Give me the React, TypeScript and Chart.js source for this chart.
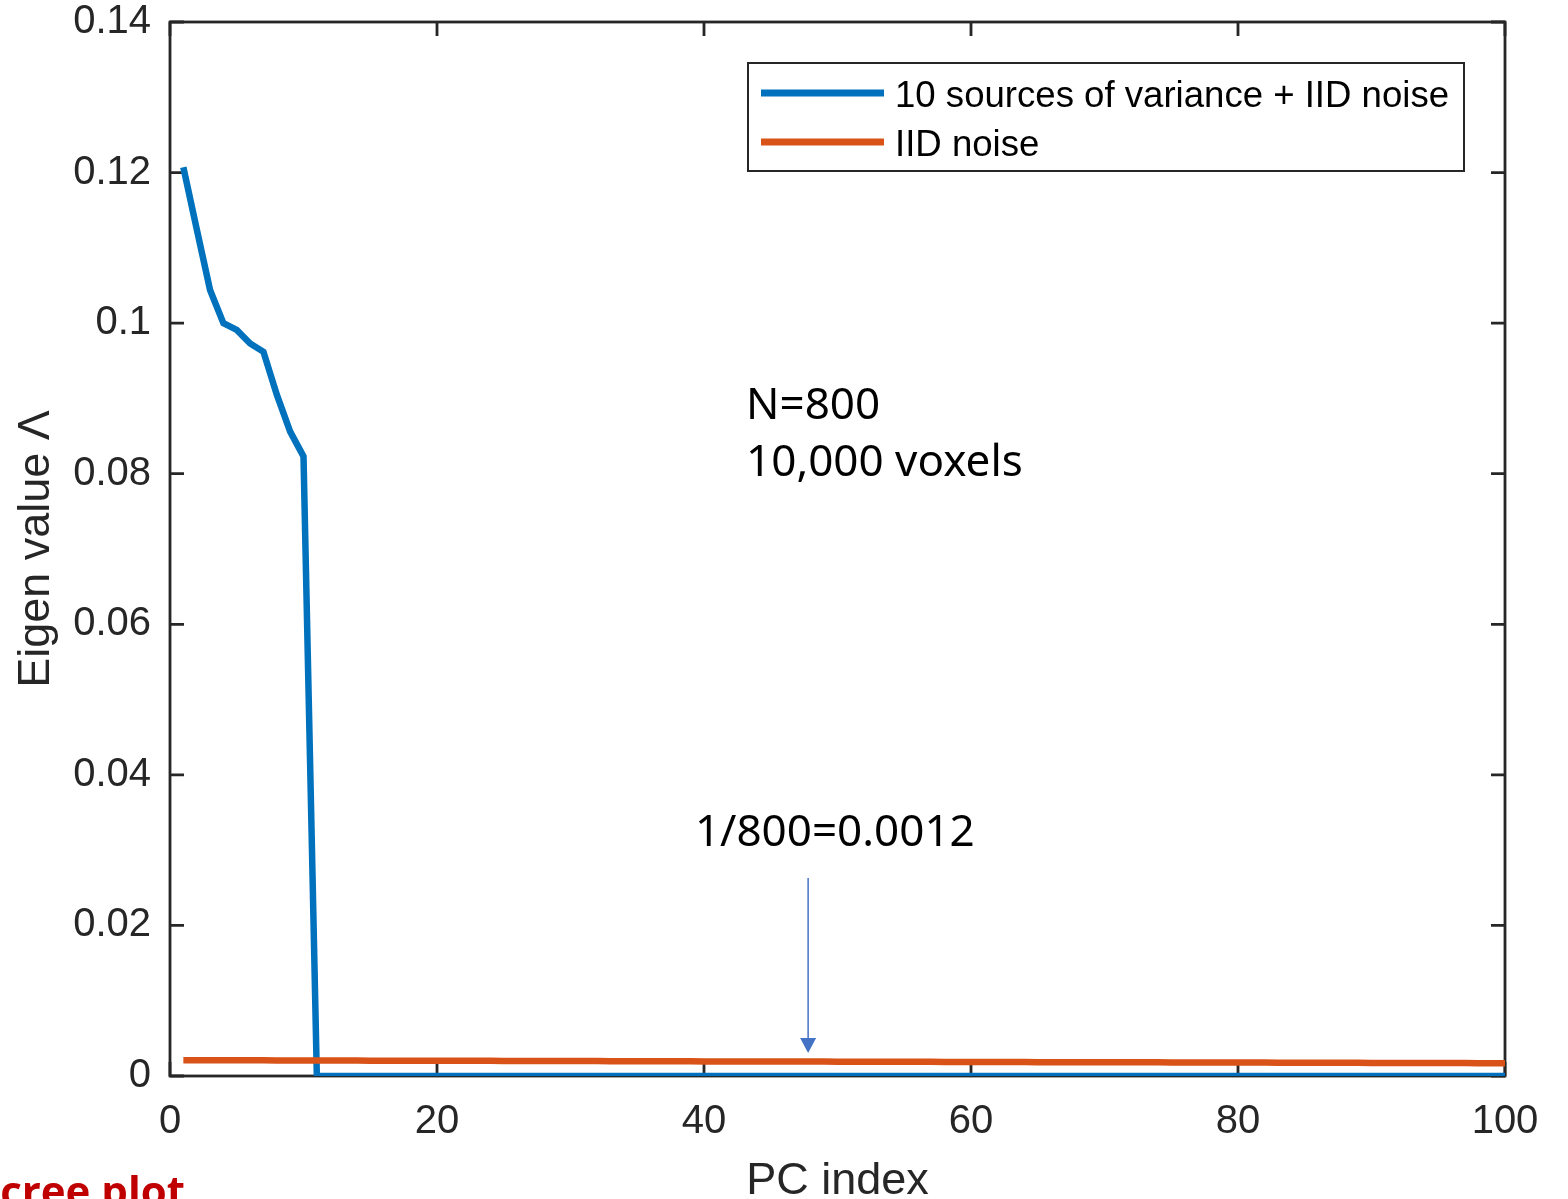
import React, { useEffect, useRef } from "react";
import { Chart, registerables } from "chart.js";

Chart.register(...registerables);

// ---------- data ----------
const pcIndex: number[] = Array.from({ length: 100 }, (_, i) => i + 1);

const sourcesPlusNoise: number[] = [
  0.1207, 0.1125, 0.1044, 0.1000, 0.0991, 0.0973, 0.0962, 0.0905, 0.0856, 0.0823,
  0, 0, 0, 0, 0, 0, 0, 0, 0, 0,
  0, 0, 0, 0, 0, 0, 0, 0, 0, 0,
  0, 0, 0, 0, 0, 0, 0, 0, 0, 0,
  0, 0, 0, 0, 0, 0, 0, 0, 0, 0,
  0, 0, 0, 0, 0, 0, 0, 0, 0, 0,
  0, 0, 0, 0, 0, 0, 0, 0, 0, 0,
  0, 0, 0, 0, 0, 0, 0, 0, 0, 0,
  0, 0, 0, 0, 0, 0, 0, 0, 0, 0,
  0, 0, 0, 0, 0, 0, 0, 0, 0, 0,
];

const iidNoise: number[] = [
  0.00210, 0.00210, 0.00209, 0.00209, 0.00208, 0.00208, 0.00208, 0.00207, 0.00207, 0.00206,
  0.00206, 0.00206, 0.00205, 0.00205, 0.00204, 0.00204, 0.00204, 0.00203, 0.00203, 0.00202,
  0.00202, 0.00202, 0.00201, 0.00201, 0.00200, 0.00200, 0.00200, 0.00199, 0.00199, 0.00198,
  0.00198, 0.00198, 0.00197, 0.00197, 0.00196, 0.00196, 0.00196, 0.00195, 0.00195, 0.00194,
  0.00194, 0.00194, 0.00193, 0.00193, 0.00192, 0.00192, 0.00192, 0.00191, 0.00191, 0.00190,
  0.00190, 0.00190, 0.00189, 0.00189, 0.00188, 0.00188, 0.00188, 0.00187, 0.00187, 0.00186,
  0.00186, 0.00186, 0.00185, 0.00185, 0.00184, 0.00184, 0.00184, 0.00183, 0.00183, 0.00182,
  0.00182, 0.00182, 0.00181, 0.00181, 0.00180, 0.00180, 0.00180, 0.00179, 0.00179, 0.00178,
  0.00178, 0.00178, 0.00177, 0.00177, 0.00176, 0.00176, 0.00176, 0.00175, 0.00175, 0.00174,
  0.00174, 0.00174, 0.00173, 0.00173, 0.00172, 0.00172, 0.00172, 0.00171, 0.00171, 0.00170,
];

const seriesLabels: string[] = ["10 sources of variance + IID noise", "IID noise"];
const xTicks: number[] = [0, 20, 40, 60, 80, 100];
const yTicks: number[] = [0, 0.02, 0.04, 0.06, 0.08, 0.1, 0.12, 0.14];
const infoLines: string[] = ["N=800", "10,000 voxels"];
const noteText = "1/800=0.0012";
const cornerText = "Scree plot";

// annotation anchors (data units)
const infoAnchor = { x: 43.15, y: 0.0873, y2: 0.0797 };
const noteAnchor = { x: 49.8, y: 0.0306 };
const arrowAnchor = { x: 47.8, yTop: 0.0263, yTip: 0.00305 };

// ---------- styles ----------
const BLUE = "#0072BD";
const ORANGE = "#D95319";
const AXIS = "#262626";
const TICK_LEN = 14;

const framePlugin = {
  id: "matlabFrame",
  beforeDatasetsDraw(chart: any) {
    const { ctx, chartArea: a, scales } = chart;
    const x = scales.x;
    const y = scales.y;
    ctx.save();
    ctx.strokeStyle = AXIS;
    ctx.lineWidth = 2.8;
    ctx.strokeRect(a.left, a.top, a.right - a.left, a.bottom - a.top);
    ctx.beginPath();
    xTicks.forEach((v) => {
      const px = x.getPixelForValue(v);
      ctx.moveTo(px, a.bottom);
      ctx.lineTo(px, a.bottom - TICK_LEN);
      ctx.moveTo(px, a.top);
      ctx.lineTo(px, a.top + TICK_LEN);
    });
    yTicks.forEach((v) => {
      const py = y.getPixelForValue(v);
      ctx.moveTo(a.left, py);
      ctx.lineTo(a.left + TICK_LEN, py);
      ctx.moveTo(a.right, py);
      ctx.lineTo(a.right - TICK_LEN, py);
    });
    ctx.stroke();
    ctx.restore();
  },
  afterDraw(chart: any) {
    const { ctx, chartArea: a, scales } = chart;
    const x = scales.x;
    const y = scales.y;
    ctx.save();

    // legend box
    const lx0 = a.right - 757;
    const ly0 = a.top + 41;
    const lw = 716;
    const lh = 108;
    ctx.fillStyle = "#ffffff";
    ctx.fillRect(lx0, ly0, lw, lh);
    ctx.strokeStyle = AXIS;
    ctx.lineWidth = 2;
    ctx.strokeRect(lx0, ly0, lw, lh);
    const colors = [BLUE, ORANGE];
    const rowY = [ly0 + 30, ly0 + 79];
    ctx.font = "36.6px 'Liberation Sans', Arial, sans-serif";
    ctx.textBaseline = "alphabetic";
    ctx.textAlign = "left";
    seriesLabels.forEach((label, i) => {
      ctx.strokeStyle = colors[i];
      ctx.lineWidth = 7;
      ctx.beginPath();
      ctx.moveTo(lx0 + 13, rowY[i]);
      ctx.lineTo(lx0 + 136, rowY[i]);
      ctx.stroke();
      ctx.fillStyle = "#000000";
      ctx.fillText(label, lx0 + 147, rowY[i] + 13.5);
    });

    // info text
    ctx.font = "44px 'Noto Sans', 'Open Sans', sans-serif";
    ctx.fillStyle = "#000000";
    ctx.textAlign = "left";
    ctx.fillText(infoLines[0], x.getPixelForValue(infoAnchor.x), y.getPixelForValue(infoAnchor.y));
    ctx.fillText(infoLines[1], x.getPixelForValue(infoAnchor.x), y.getPixelForValue(infoAnchor.y2));
    ctx.textAlign = "center";
    ctx.fillText(noteText, x.getPixelForValue(noteAnchor.x), y.getPixelForValue(noteAnchor.y));

    // arrow
    const ax = x.getPixelForValue(arrowAnchor.x);
    const ayTop = y.getPixelForValue(arrowAnchor.yTop);
    const ayTip = y.getPixelForValue(arrowAnchor.yTip);
    ctx.strokeStyle = "#4472C4";
    ctx.fillStyle = "#4472C4";
    ctx.lineWidth = 1.5;
    ctx.beginPath();
    ctx.moveTo(ax, ayTop);
    ctx.lineTo(ax, ayTip - 14);
    ctx.stroke();
    ctx.beginPath();
    ctx.moveTo(ax - 8, ayTip - 15);
    ctx.lineTo(ax + 8, ayTip - 15);
    ctx.lineTo(ax, ayTip);
    ctx.closePath();
    ctx.fill();

    // corner caption (partly off-canvas as in the reference)
    ctx.font = "bold 42px 'Open Sans', 'Noto Sans', sans-serif";
    ctx.fillStyle = "#C00000";
    ctx.textAlign = "left";
    ctx.fillText(cornerText, -23, 1206);

    ctx.restore();
  },
};

export default function App() {
  const canvasRef = useRef<HTMLCanvasElement | null>(null);

  useEffect(() => {
    if (!canvasRef.current) return;
    Chart.defaults.font.family = "'Liberation Sans', Arial, sans-serif";
    const chart = new Chart(canvasRef.current, {
      type: "line",
      data: {
        datasets: [
          {
            label: seriesLabels[0],
            data: pcIndex.map((px, i) => ({ x: px, y: sourcesPlusNoise[i] })),
            borderColor: BLUE,
            backgroundColor: BLUE,
            borderWidth: 6.5,
            pointRadius: 0,
            tension: 0,
            order: 2,
          },
          {
            label: seriesLabels[1],
            data: pcIndex.map((px, i) => ({ x: px, y: iidNoise[i] })),
            borderColor: ORANGE,
            backgroundColor: ORANGE,
            borderWidth: 6.5,
            pointRadius: 0,
            tension: 0,
            order: 1,
          },
        ],
      },
      options: {
        responsive: false,
        animation: false,
        devicePixelRatio: 1,
        layout: { padding: { left: 0, top: 22, right: 63, bottom: 0 } },
        plugins: {
          legend: { display: false },
          tooltip: { enabled: false },
        },
        scales: {
          x: {
            type: "linear",
            min: 0,
            max: 100,
            border: { display: false },
            grid: { display: false, drawTicks: false },
            afterBuildTicks: (s: any) => {
              s.ticks = xTicks.map((v) => ({ value: v }));
            },
            afterFit: (s: any) => {
              s.height = 123;
            },
            ticks: {
              color: AXIS,
              padding: 22,
              font: { size: 40 },
              maxRotation: 0,
              callback: (v: any) => String(v),
            },
            title: {
              display: true,
              text: "PC index",
              color: AXIS,
              font: { size: 45 },
              padding: { top: 0, bottom: -10 },
            },
          },
          y: {
            type: "linear",
            min: 0,
            max: 0.14,
            border: { display: false },
            grid: { display: false, drawTicks: false },
            afterBuildTicks: (s: any) => {
              s.ticks = yTicks.map((v) => ({ value: v }));
            },
            afterFit: (s: any) => {
              s.width = 170;
              s.paddingTop = 0;
              s.paddingBottom = 0;
            },
            ticks: {
              color: AXIS,
              padding: 19,
              font: { size: 40, lineHeight: 1.1 },
              callback: (v: any) => String(Number(Number(v).toFixed(2))),
            },
            title: {
              display: true,
              text: "Eigen value Λ",
              color: AXIS,
              font: { size: 45 },
              padding: { top: 10, bottom: 0 },
            },
          },
        },
      },
      plugins: [framePlugin],
    });
    return () => chart.destroy();
  }, []);

  return (
    <div
      style={{
        position: "absolute",
        left: 0,
        top: 0,
        width: 1568,
        height: 1199,
        overflow: "hidden",
        background: "#ffffff",
      }}
    >
      <canvas ref={canvasRef} width={1568} height={1199} style={{ display: "block" }} />
    </div>
  );
}
